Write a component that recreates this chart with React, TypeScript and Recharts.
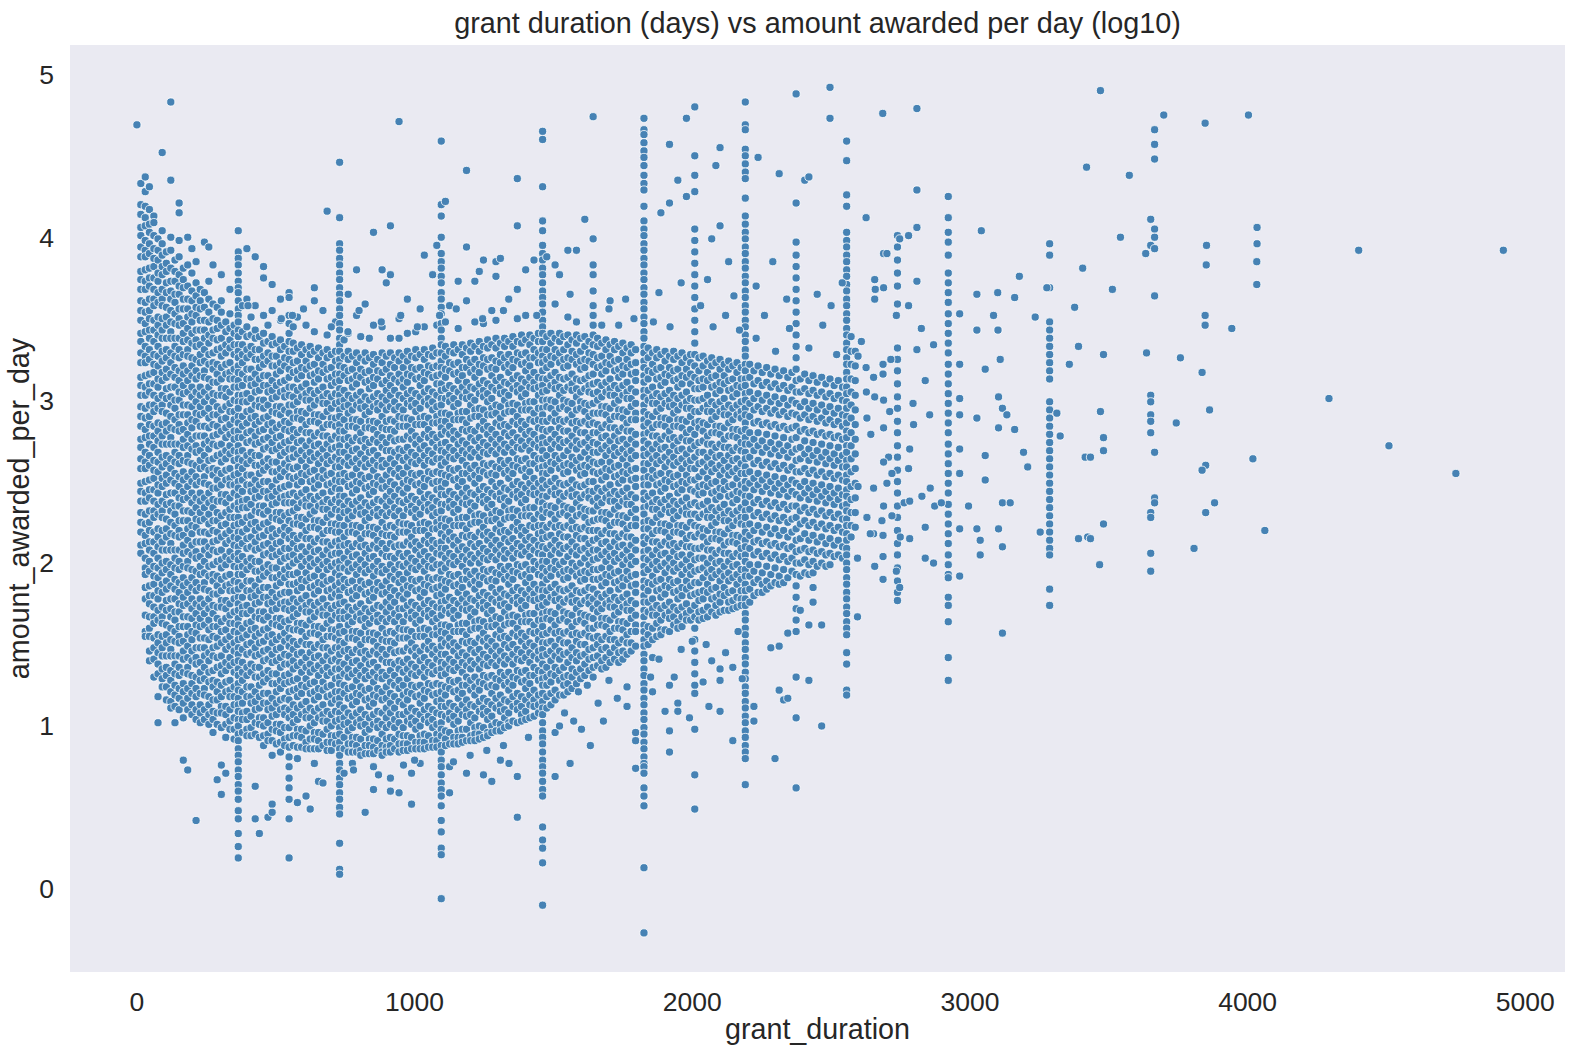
import React from 'react';
import { ScatterChart, Scatter, XAxis, YAxis, CartesianGrid, Label } from 'recharts';

// x = grant duration (days); each list = log10 amount awarded per day, in hundredths
const yearOneCols: [number, number[]][] = [
  [14, [433, 420, 414, 406, 401, 394, 388, 379, 374, 368, 361, 355, 349, 341, 336, 329, 323, 314, 309, 303, 296, 290, 284, 276, 271, 264, 258, 249, 244, 238, 231, 225, 219, 211, 206]],
  [30, [437, 428, 419, 412, 407, 398, 392, 388, 380, 373, 368, 360, 354, 347, 342, 333, 327, 323, 315, 308, 303, 295, 289, 282, 277, 268, 262, 258, 250, 243, 238, 230, 224, 217, 212, 203, 197, 193, 185, 178, 168, 158, 155]],
  [45, [431, 417, 408, 403, 396, 390, 381, 375, 370, 362, 355, 350, 343, 338, 331, 325, 316, 310, 305, 297, 290, 285, 278, 273, 266, 260, 251, 245, 240, 232, 225, 220, 213, 208, 201, 195, 186, 180, 175, 167, 160, 155, 146, 140]],
  [61, [413, 409, 401, 393, 387, 382, 375, 368, 362, 358, 349, 343, 336, 328, 322, 317, 310, 303, 297, 293, 284, 278, 271, 263, 257, 252, 245, 238, 232, 228, 219, 213, 206, 198, 192, 187, 180, 173, 167, 163, 154, 148, 141, 130]],
  [76, [399, 392, 386, 378, 373, 366, 360, 351, 346, 340, 333, 327, 321, 313, 308, 301, 295, 286, 281, 275, 268, 262, 256, 248, 243, 236, 230, 221, 216, 210, 203, 197, 191, 183, 178, 171, 165, 156, 151, 145, 138, 132, 118, 102]],
  [91, [452, 404, 396, 389, 382, 377, 368, 362, 358, 350, 343, 338, 330, 324, 317, 312, 303, 297, 293, 285, 278, 273, 265, 259, 252, 247, 238, 232, 228, 220, 213, 208, 200, 194, 187, 182, 173, 167, 163, 155, 148, 143, 135, 129, 124]],
  [106, [391, 384, 379, 372, 366, 357, 351, 346, 338, 331, 326, 319, 314, 307, 301, 292, 286, 281, 273, 266, 261, 254, 249, 242, 236, 227, 221, 216, 208, 201, 196, 189, 184, 177, 171, 162, 156, 151, 143, 136, 131, 124, 116]],
  [122, [483, 435, 400, 392, 381, 373, 367, 362, 355, 348, 342, 338, 329, 323, 316, 308, 302, 297, 290, 283, 277, 273, 264, 258, 251, 243, 237, 232, 225, 218, 212, 208, 199, 193, 186, 178, 172, 167, 160, 153, 147, 143, 134, 128, 121, 115, 111]],
  [137, [386, 379, 373, 365, 360, 353, 347, 338, 333, 327, 320, 314, 308, 300, 295, 288, 282, 273, 268, 262, 255, 249, 243, 235, 230, 223, 217, 208, 203, 197, 190, 184, 178, 170, 165, 158, 152, 143, 138, 132, 125, 119, 112, 102]],
  [152, [421, 415, 398, 388, 377, 370, 365, 356, 350, 346, 338, 331, 326, 318, 312, 305, 300, 291, 285, 281, 273, 266, 261, 253, 247, 240, 235, 226, 220, 216, 208, 201, 196, 188, 182, 175, 170, 161, 155, 151, 143, 136, 131, 123, 117, 110]],
  [167, [381, 374, 369, 362, 356, 347, 341, 336, 328, 321, 316, 309, 304, 297, 291, 282, 276, 271, 263, 256, 251, 244, 239, 232, 226, 217, 211, 206, 198, 191, 186, 179, 174, 167, 161, 152, 146, 141, 133, 126, 121, 114, 105, 79]],
  [183, [400, 383, 370, 362, 356, 351, 344, 337, 331, 327, 318, 312, 305, 297, 291, 286, 279, 272, 266, 262, 253, 247, 240, 232, 226, 221, 214, 207, 201, 197, 188, 182, 175, 167, 161, 156, 149, 142, 136, 132, 123, 117, 110, 73]],
  [198, [393, 378, 367, 361, 353, 348, 341, 335, 326, 321, 315, 308, 302, 296, 288, 283, 276, 270, 261, 256, 250, 243, 237, 231, 223, 218, 211, 205, 196, 191, 185, 178, 172, 166, 158, 153, 146, 140, 131, 126, 120, 113, 107]],
  [213, [385, 372, 364, 357, 352, 343, 337, 333, 325, 318, 313, 305, 299, 292, 287, 278, 272, 268, 260, 253, 248, 240, 234, 227, 222, 213, 207, 203, 195, 188, 183, 175, 169, 162, 157, 148, 142, 138, 130, 123, 118, 110, 104, 42]],
  [228, [368, 361, 356, 349, 343, 334, 328, 323, 315, 308, 303, 296, 291, 284, 278, 269, 263, 258, 250, 243, 238, 231, 226, 219, 213, 204, 198, 193, 185, 178, 173, 166, 161, 154, 148, 139, 133, 128, 120, 113, 108, 102]],
  [243, [397, 366, 357, 349, 343, 338, 331, 324, 318, 314, 305, 299, 292, 284, 278, 273, 266, 259, 253, 249, 240, 234, 227, 219, 213, 208, 201, 194, 188, 184, 175, 169, 162, 154, 148, 143, 136, 129, 123, 119, 110, 104]],
  [259, [394, 373, 362, 354, 348, 340, 335, 328, 322, 313, 308, 302, 295, 289, 283, 275, 270, 263, 257, 248, 243, 237, 230, 224, 218, 210, 205, 198, 192, 183, 178, 172, 165, 159, 153, 145, 140, 133, 127, 118, 113, 107, 101]],
  [274, [383, 359, 350, 343, 338, 329, 323, 319, 311, 304, 299, 291, 285, 278, 273, 264, 258, 254, 246, 239, 234, 226, 220, 213, 208, 199, 193, 189, 181, 174, 169, 161, 155, 148, 143, 134, 128, 124, 116, 109, 104, 96]],
  [289, [357, 349, 344, 337, 331, 322, 316, 311, 303, 296, 291, 284, 279, 272, 266, 257, 251, 246, 238, 231, 226, 219, 214, 207, 201, 192, 186, 181, 173, 166, 161, 154, 149, 142, 136, 127, 121, 116, 108, 101, 67]],
  [304, [377, 361, 354, 346, 338, 332, 327, 320, 313, 307, 303, 294, 288, 281, 273, 267, 262, 255, 248, 242, 238, 229, 223, 216, 208, 202, 197, 190, 183, 177, 173, 164, 158, 151, 143, 137, 132, 125, 118, 112, 108, 99, 76, 58]],
  [320, [348, 342, 334, 329, 322, 316, 307, 302, 296, 289, 283, 277, 269, 264, 257, 251, 242, 237, 231, 224, 218, 212, 204, 199, 192, 186, 177, 172, 166, 159, 153, 147, 139, 134, 127, 121, 112, 107, 101, 93, 71]],
  [335, [368, 353, 344, 337, 332, 323, 317, 313, 305, 298, 293, 285, 279, 272, 267, 258, 252, 248, 240, 233, 228, 220, 214, 207, 202, 193, 187, 183, 175, 168, 163, 155, 149, 142, 137, 128, 122, 118, 110, 103, 98]],
  [350, [346, 341, 334, 328, 319, 313, 308, 300, 293, 288, 281, 276, 269, 263, 254, 248, 243, 235, 228, 223, 216, 211, 204, 198, 189, 183, 178, 170, 163, 158, 151, 146, 139, 133, 124, 118, 113, 105, 98, 92]],
  [365, [404, 391, 387, 383, 378, 373, 369, 366, 361, 356, 352, 348, 343, 339, 334, 330, 326, 321, 317, 312, 308, 303, 299, 295, 290, 286, 281, 277, 272, 268, 264, 259, 255, 250, 246, 241, 237, 233, 228, 224, 219, 215, 210, 206, 202, 197, 193, 188, 184, 179, 175, 171, 166, 162, 157, 153, 148, 144, 140, 135, 131, 126, 122, 117, 113, 109, 104, 100, 95, 91, 86, 82, 78, 73, 69, 64, 60, 55, 48, 43, 34, 26, 19]],
];

const yearTwoCols: [number, number[]][] = [
  [380, [358, 342, 334, 328, 323, 316, 309, 303, 299, 290, 284, 277, 269, 263, 258, 251, 244, 238, 234, 225, 219, 212, 204, 198, 193, 186, 179, 173, 169, 160, 154, 147, 139, 133, 128, 121, 114, 108, 104, 96]],
  [396, [393, 362, 345, 339, 331, 326, 319, 313, 304, 299, 293, 286, 280, 274, 266, 261, 254, 248, 239, 234, 228, 221, 215, 209, 201, 196, 189, 183, 174, 169, 163, 156, 150, 144, 136, 131, 124, 118, 109, 104, 98, 94]],
  [411, [351, 340, 333, 328, 319, 313, 309, 301, 294, 289, 281, 275, 268, 263, 254, 248, 244, 236, 229, 224, 216, 210, 203, 198, 189, 183, 179, 171, 164, 159, 151, 145, 138, 133, 124, 118, 114, 106, 99, 94]],
  [426, [388, 358, 343, 338, 331, 325, 316, 310, 305, 297, 290, 285, 278, 273, 266, 260, 251, 245, 240, 232, 225, 220, 213, 208, 201, 195, 186, 180, 175, 167, 160, 155, 148, 143, 136, 130, 121, 115, 110, 102, 95, 63, 43]],
  [441, [339, 331, 325, 320, 313, 306, 300, 296, 287, 281, 274, 266, 260, 255, 248, 241, 235, 231, 222, 216, 209, 201, 195, 190, 183, 176, 170, 166, 157, 151, 144, 136, 130, 125, 118, 111, 105, 101, 93, 34]],
  [456, [382, 375, 352, 341, 335, 327, 322, 315, 309, 300, 295, 289, 282, 276, 270, 262, 257, 250, 244, 235, 230, 224, 217, 211, 205, 197, 192, 185, 179, 170, 165, 159, 152, 146, 140, 132, 127, 120, 114, 105, 100, 94, 88]],
  [472, [346, 336, 329, 324, 315, 309, 305, 297, 290, 285, 277, 271, 264, 259, 250, 244, 240, 232, 225, 220, 212, 206, 199, 194, 185, 179, 175, 167, 160, 155, 147, 141, 134, 129, 120, 114, 110, 102, 95, 91, 44]],
  [487, [371, 355, 339, 334, 327, 321, 312, 306, 301, 293, 286, 281, 274, 269, 262, 256, 247, 241, 236, 228, 221, 216, 209, 204, 197, 191, 182, 176, 171, 163, 156, 151, 144, 139, 132, 126, 117, 111, 106, 98, 91, 82, 52, 47]],
  [502, [335, 327, 321, 316, 309, 302, 296, 292, 283, 277, 270, 262, 256, 251, 244, 237, 231, 227, 218, 212, 205, 197, 191, 186, 179, 172, 166, 162, 153, 147, 140, 132, 126, 121, 114, 107, 101, 97, 89]],
  [517, [362, 349, 337, 331, 323, 318, 311, 305, 296, 291, 285, 278, 272, 266, 258, 253, 246, 240, 231, 226, 220, 213, 207, 201, 193, 188, 181, 175, 166, 161, 155, 148, 142, 136, 128, 123, 116, 110, 101, 96, 90, 84]],
  [532, [333, 326, 321, 312, 306, 302, 294, 287, 282, 274, 268, 261, 256, 247, 241, 237, 229, 222, 217, 209, 203, 196, 191, 182, 176, 172, 164, 157, 152, 144, 138, 131, 126, 117, 111, 107, 99, 92, 88]],
  [548, [366, 363, 352, 347, 341, 336, 330, 325, 319, 314, 308, 303, 297, 292, 286, 281, 275, 270, 264, 259, 253, 248, 242, 237, 231, 226, 220, 215, 209, 204, 198, 193, 187, 182, 176, 171, 165, 160, 154, 149, 143, 138, 132, 127, 121, 116, 110, 105, 99, 93, 87, 81, 75, 68, 62, 55, 43, 19]],
  [563, [345, 335, 330, 323, 317, 308, 302, 297, 289, 282, 277, 270, 265, 258, 252, 243, 237, 232, 224, 217, 212, 205, 200, 193, 187, 178, 172, 167, 159, 152, 147, 140, 135, 128, 122, 113, 107, 102, 94, 88]],
  [578, [351, 332, 324, 318, 313, 306, 299, 293, 289, 280, 274, 267, 259, 253, 248, 241, 234, 228, 224, 215, 209, 202, 194, 188, 183, 176, 169, 163, 159, 150, 144, 137, 129, 123, 118, 111, 104, 98, 94, 87, 80, 53]],
  [593, [334, 328, 320, 315, 308, 302, 293, 288, 282, 275, 269, 263, 255, 250, 243, 237, 228, 223, 217, 210, 204, 198, 190, 185, 178, 172, 163, 158, 152, 145, 139, 133, 125, 120, 113, 107, 98, 93, 87]],
  [609, [346, 331, 324, 319, 310, 304, 300, 292, 285, 280, 272, 266, 259, 254, 245, 239, 235, 227, 220, 215, 207, 201, 194, 189, 180, 174, 170, 162, 155, 150, 142, 136, 129, 124, 115, 109, 105, 97, 90, 86, 57]],
  [624, [333, 328, 321, 315, 306, 300, 295, 287, 280, 275, 268, 263, 256, 250, 241, 235, 230, 222, 215, 210, 203, 198, 191, 185, 176, 170, 165, 157, 150, 145, 138, 133, 126, 120, 111, 105, 100, 92, 86, 49]],
  [639, [369, 361, 342, 330, 322, 316, 311, 304, 297, 291, 287, 278, 272, 265, 257, 251, 246, 239, 232, 226, 222, 213, 207, 200, 192, 186, 181, 174, 167, 161, 157, 148, 142, 135, 127, 121, 116, 109, 102, 96, 92, 86, 77]],
  [654, [332, 326, 318, 313, 306, 300, 291, 286, 280, 273, 267, 261, 253, 248, 241, 235, 226, 221, 215, 208, 202, 196, 188, 183, 176, 170, 161, 156, 150, 143, 137, 131, 123, 118, 111, 105, 96, 91, 86, 66]],
  [670, [355, 329, 322, 317, 308, 302, 298, 290, 283, 278, 270, 264, 257, 252, 243, 237, 233, 225, 218, 213, 205, 199, 192, 187, 178, 172, 168, 160, 153, 148, 140, 134, 127, 122, 113, 107, 103, 95, 88, 65]],
  [685, [416, 340, 331, 326, 319, 313, 304, 298, 293, 285, 278, 273, 266, 261, 254, 248, 239, 233, 228, 220, 213, 208, 201, 196, 189, 183, 174, 168, 163, 155, 148, 143, 136, 131, 124, 118, 109, 103, 98, 90, 85]],
  [700, [328, 320, 314, 309, 302, 295, 289, 285, 276, 270, 263, 255, 249, 244, 237, 230, 224, 220, 211, 205, 198, 190, 184, 179, 172, 165, 159, 155, 146, 140, 133, 125, 119, 114, 107, 100, 94, 90, 85]],
  [715, [348, 330, 324, 316, 311, 304, 298, 289, 284, 278, 271, 265, 259, 251, 246, 239, 233, 224, 219, 213, 206, 200, 194, 186, 181, 174, 168, 159, 154, 148, 141, 135, 129, 121, 116, 109, 103, 94, 89]],
  [730, [446, 412, 396, 392, 387, 383, 378, 374, 369, 365, 361, 356, 352, 347, 343, 338, 334, 330, 325, 321, 316, 312, 307, 303, 299, 294, 290, 285, 281, 276, 272, 268, 263, 259, 254, 250, 245, 241, 237, 232, 228, 223, 219, 214, 210, 206, 201, 197, 192, 188, 183, 179, 175, 170, 166, 161, 157, 152, 148, 144, 139, 135, 130, 126, 121, 117, 113, 108, 104, 99, 95, 90, 86, 82, 77, 73, 68, 64, 59, 55, 50, 46, 28, 12, 9]],
];

const yearThreeCols: [number, number[]][] = [
  [746, [337, 327, 320, 315, 306, 300, 296, 288, 281, 276, 268, 262, 255, 250, 241, 235, 231, 223, 216, 211, 203, 197, 190, 185, 176, 170, 166, 158, 151, 146, 138, 132, 125, 120, 111, 105, 101, 93, 86, 71]],
  [761, [365, 341, 330, 325, 318, 312, 303, 297, 292, 284, 277, 272, 265, 260, 253, 247, 238, 232, 227, 219, 212, 207, 200, 195, 188, 182, 173, 167, 162, 154, 147, 142, 135, 130, 123, 117, 108, 102, 97, 89, 84]],
  [776, [327, 319, 313, 308, 301, 294, 288, 284, 275, 269, 262, 254, 248, 243, 236, 229, 223, 219, 210, 204, 197, 189, 183, 178, 171, 164, 158, 154, 145, 139, 132, 124, 118, 113, 106, 99, 93, 89, 84, 77]],
  [791, [380, 352, 329, 323, 315, 310, 303, 297, 288, 283, 277, 270, 264, 258, 250, 245, 238, 232, 223, 218, 212, 205, 199, 193, 185, 180, 173, 167, 158, 153, 147, 140, 134, 128, 120, 115, 108, 102, 93, 88, 84]],
  [806, [339, 326, 319, 314, 305, 299, 295, 287, 280, 275, 267, 261, 254, 249, 240, 234, 230, 222, 215, 210, 202, 196, 189, 184, 175, 169, 165, 157, 150, 145, 137, 131, 124, 119, 110, 104, 100, 92, 85, 82]],
  [822, [359, 329, 324, 317, 311, 302, 296, 291, 283, 276, 271, 264, 259, 252, 246, 237, 231, 226, 218, 211, 206, 199, 194, 187, 181, 172, 166, 161, 153, 146, 141, 134, 129, 122, 116, 107, 101, 96, 88, 83, 47]],
  [837, [338, 326, 318, 312, 307, 300, 293, 287, 283, 274, 268, 261, 253, 247, 242, 235, 228, 222, 218, 209, 203, 196, 188, 182, 177, 170, 163, 157, 153, 144, 138, 131, 123, 117, 112, 105, 98, 92, 88, 83]],
  [852, [403, 346, 328, 322, 314, 309, 302, 296, 287, 282, 276, 269, 263, 257, 249, 244, 237, 231, 222, 217, 211, 204, 198, 192, 184, 179, 172, 166, 157, 152, 146, 139, 133, 127, 119, 114, 107, 101, 92, 87, 83, 75, 61]],
  [867, [325, 318, 313, 304, 298, 294, 286, 279, 274, 266, 260, 253, 248, 239, 233, 229, 221, 214, 209, 201, 195, 188, 183, 174, 168, 164, 156, 149, 144, 136, 130, 123, 118, 109, 103, 99, 91, 85]],
  [883, [380, 345, 329, 323, 317, 310, 302, 297, 290, 283, 277, 271, 263, 259, 251, 246, 238, 231, 225, 218, 212, 206, 198, 194, 186, 181, 173, 166, 160, 153, 147, 141, 133, 129, 121, 116, 108, 101, 95, 88, 84, 82]],
  [898, [372, 327, 319, 312, 306, 300, 294, 287, 282, 274, 269, 261, 254, 247, 241, 235, 229, 222, 217, 209, 204, 196, 189, 182, 176, 170, 164, 157, 152, 144, 139, 131, 124, 117, 111, 105, 99, 92, 87, 84]],
  [913, [407, 377, 338, 329, 322, 315, 309, 303, 296, 288, 282, 277, 269, 264, 257, 250, 244, 238, 231, 223, 217, 212, 204, 199, 192, 185, 179, 173, 166, 158, 152, 147, 139, 134, 127, 120, 114, 108, 101, 93, 88, 84, 68, 60]],
  [928, [326, 320, 313, 306, 299, 294, 287, 281, 275, 268, 261, 255, 248, 241, 234, 229, 222, 216, 210, 203, 196, 190, 183, 176, 169, 164, 157, 151, 145, 138, 131, 125, 118, 111, 104, 99, 92, 86]],
  [944, [471, 350, 338, 329, 324, 316, 311, 303, 296, 290, 284, 276, 270, 265, 258, 253, 245, 238, 232, 225, 219, 211, 206, 199, 193, 188, 180, 172, 167, 160, 154, 146, 140, 135, 128, 123, 115, 107, 102, 95, 89, 84, 59]],
  [959, [327, 320, 313, 308, 301, 294, 289, 284, 276, 269, 263, 255, 249, 243, 237, 229, 224, 219, 211, 204, 198, 190, 184, 178, 172, 164, 159, 154, 146, 139, 133, 125, 119, 113, 107, 99, 94, 89, 85]],
  [974, [362, 341, 330, 324, 316, 311, 304, 298, 289, 284, 278, 271, 265, 259, 251, 246, 239, 233, 224, 219, 213, 206, 200, 194, 186, 181, 174, 168, 159, 154, 148, 141, 135, 129, 121, 116, 109, 103, 94, 89, 85]],
  [989, [327, 320, 315, 306, 300, 296, 288, 281, 276, 268, 262, 255, 250, 241, 235, 231, 223, 216, 211, 203, 197, 190, 185, 176, 170, 166, 158, 151, 146, 138, 132, 125, 120, 111, 105, 101, 93, 86, 71, 52]],
  [1004, [342, 331, 326, 319, 313, 304, 298, 293, 285, 278, 273, 266, 261, 254, 248, 239, 233, 228, 220, 213, 208, 201, 196, 189, 183, 174, 168, 163, 155, 148, 143, 136, 131, 124, 118, 109, 103, 98, 90, 86]],
  [1020, [356, 328, 320, 314, 309, 302, 295, 289, 285, 276, 270, 263, 255, 249, 244, 237, 230, 224, 220, 211, 205, 198, 190, 184, 179, 172, 165, 159, 155, 146, 140, 133, 125, 119, 114, 107, 100, 94, 90, 86, 77]],
  [1035, [389, 345, 331, 325, 317, 312, 305, 299, 290, 285, 279, 272, 266, 260, 252, 247, 240, 234, 225, 220, 214, 207, 201, 195, 187, 182, 175, 169, 160, 155, 149, 142, 136, 130, 122, 117, 110, 104, 95, 90, 86]],
  [1050, [328, 321, 316, 307, 301, 297, 289, 282, 277, 269, 263, 256, 251, 242, 236, 232, 224, 217, 212, 204, 198, 191, 186, 177, 171, 167, 159, 152, 147, 139, 133, 126, 121, 112, 106, 102, 94, 87]],
  [1065, [377, 332, 327, 320, 314, 305, 299, 294, 286, 279, 274, 267, 262, 255, 249, 240, 234, 229, 221, 214, 209, 202, 197, 190, 184, 175, 169, 164, 156, 149, 144, 137, 132, 125, 119, 110, 104, 99, 91, 87]],
  [1080, [395, 346, 329, 321, 315, 310, 303, 296, 290, 286, 277, 271, 264, 256, 250, 245, 238, 231, 225, 221, 212, 206, 199, 191, 185, 180, 173, 166, 160, 156, 147, 141, 134, 126, 120, 115, 108, 101, 95, 91, 87]],
  [1096, [459, 420, 413, 400, 390, 385, 381, 376, 372, 366, 362, 357, 353, 347, 343, 338, 334, 329, 324, 320, 316, 310, 306, 301, 297, 292, 287, 283, 279, 273, 269, 264, 260, 255, 250, 246, 242, 236, 232, 227, 223, 218, 213, 209, 205, 199, 195, 190, 186, 181, 176, 172, 168, 162, 158, 153, 149, 144, 139, 135, 131, 125, 121, 116, 112, 107, 102, 98, 94, 88, 84, 79, 75, 70, 65, 61, 57, 51, 42, 35, 25, 21, -6]],
];

const yearFourCols: [number, number[]][] = [
  [1111, [422, 348, 333, 327, 319, 314, 307, 301, 292, 287, 281, 274, 268, 262, 254, 249, 242, 236, 227, 222, 216, 209, 203, 197, 189, 184, 177, 171, 162, 157, 151, 144, 138, 132, 124, 119, 112, 106, 97, 92, 88]],
  [1126, [358, 330, 323, 318, 309, 303, 299, 291, 284, 279, 271, 265, 258, 253, 244, 238, 234, 226, 219, 214, 206, 200, 193, 188, 179, 173, 169, 161, 154, 149, 141, 135, 128, 123, 114, 108, 104, 96, 89, 75, 59]],
  [1141, [334, 329, 322, 316, 307, 301, 296, 288, 281, 276, 269, 264, 257, 251, 242, 236, 231, 223, 216, 211, 204, 199, 192, 186, 177, 171, 166, 158, 151, 146, 139, 134, 127, 121, 112, 106, 101, 93, 89]],
  [1157, [373, 344, 331, 323, 317, 312, 305, 298, 292, 288, 279, 273, 266, 258, 252, 247, 240, 233, 227, 223, 214, 208, 201, 193, 187, 182, 175, 168, 162, 158, 149, 143, 136, 128, 122, 117, 110, 103, 97, 93, 89]],
  [1172, [334, 328, 320, 315, 308, 302, 293, 288, 282, 275, 269, 263, 255, 250, 243, 237, 228, 223, 217, 210, 204, 198, 190, 185, 178, 172, 163, 158, 152, 145, 139, 133, 125, 120, 113, 107, 98, 93, 90]],
  [1187, [441, 394, 361, 332, 325, 320, 311, 305, 301, 293, 286, 281, 273, 267, 260, 255, 246, 240, 236, 228, 221, 216, 208, 202, 195, 190, 181, 175, 171, 163, 156, 151, 143, 137, 130, 125, 116, 110, 106, 98, 91, 71]],
  [1202, [335, 330, 323, 317, 308, 302, 297, 289, 282, 277, 270, 265, 258, 252, 243, 237, 232, 224, 217, 212, 205, 200, 193, 187, 178, 172, 167, 159, 152, 147, 140, 135, 128, 122, 113, 107, 102, 94, 91]],
  [1217, [373, 348, 333, 325, 319, 314, 307, 300, 294, 290, 281, 275, 268, 260, 254, 249, 242, 235, 229, 225, 216, 210, 203, 195, 189, 184, 177, 170, 164, 160, 151, 145, 138, 130, 124, 119, 112, 105, 99, 95, 91]],
  [1233, [379, 336, 330, 322, 317, 310, 304, 295, 290, 284, 277, 271, 265, 257, 252, 245, 239, 230, 225, 219, 212, 206, 200, 192, 187, 180, 174, 165, 160, 154, 147, 141, 135, 127, 122, 115, 109, 100, 95, 92]],
  [1248, [386, 347, 333, 326, 321, 312, 306, 302, 294, 287, 282, 274, 268, 261, 256, 247, 241, 237, 229, 222, 217, 209, 203, 196, 191, 182, 176, 172, 164, 157, 152, 144, 138, 131, 126, 117, 111, 107, 99, 93, 70]],
  [1263, [337, 332, 325, 319, 310, 304, 299, 291, 284, 279, 272, 267, 260, 254, 245, 239, 234, 226, 219, 214, 207, 202, 195, 189, 180, 174, 169, 161, 154, 149, 142, 137, 130, 124, 115, 109, 104, 96, 94]],
  [1278, [355, 334, 326, 320, 315, 308, 301, 295, 291, 282, 276, 269, 261, 255, 250, 243, 236, 230, 226, 217, 211, 204, 196, 190, 185, 178, 171, 165, 161, 152, 146, 139, 131, 125, 120, 113, 106, 100, 96, 66]],
  [1293, [385, 376, 349, 338, 332, 324, 319, 312, 306, 297, 292, 286, 279, 273, 267, 259, 254, 247, 241, 232, 227, 221, 214, 208, 202, 194, 189, 182, 176, 167, 162, 156, 149, 143, 137, 129, 124, 117, 111, 102, 97]],
  [1309, [387, 335, 328, 323, 314, 308, 304, 296, 289, 284, 276, 270, 263, 258, 249, 243, 239, 231, 224, 219, 211, 205, 198, 193, 184, 178, 174, 166, 159, 154, 146, 140, 133, 128, 119, 113, 109, 101, 97, 79]],
  [1324, [338, 333, 326, 320, 311, 305, 300, 292, 285, 280, 273, 268, 261, 255, 246, 240, 235, 227, 220, 215, 208, 203, 196, 190, 181, 175, 170, 162, 155, 150, 143, 138, 131, 125, 116, 110, 105, 99]],
  [1339, [362, 336, 328, 322, 317, 310, 303, 297, 293, 284, 278, 271, 263, 257, 252, 245, 238, 232, 228, 219, 213, 206, 198, 192, 187, 180, 173, 167, 163, 154, 148, 141, 133, 127, 122, 115, 108, 102, 100]],
  [1354, [339, 333, 325, 320, 313, 307, 298, 293, 287, 280, 274, 268, 260, 255, 248, 242, 233, 228, 222, 215, 209, 203, 195, 190, 183, 177, 168, 163, 157, 150, 144, 138, 130, 125, 118, 112, 103]],
  [1370, [436, 407, 368, 350, 336, 329, 324, 315, 309, 305, 297, 290, 285, 277, 271, 264, 259, 250, 244, 240, 232, 225, 220, 212, 206, 199, 194, 185, 179, 175, 167, 160, 155, 147, 141, 134, 129, 120, 114, 110, 102, 69, 44]],
  [1385, [340, 335, 328, 322, 313, 307, 302, 294, 287, 282, 275, 270, 263, 257, 248, 242, 237, 229, 222, 217, 210, 205, 198, 192, 183, 177, 172, 164, 157, 152, 145, 140, 133, 127, 118, 112, 107, 103]],
  [1400, [380, 352, 337, 329, 323, 318, 311, 304, 298, 294, 285, 279, 272, 264, 258, 253, 246, 239, 233, 229, 220, 214, 207, 199, 193, 188, 181, 174, 168, 164, 155, 149, 142, 134, 128, 123, 116, 109, 104]],
  [1415, [340, 334, 326, 321, 314, 308, 299, 294, 288, 281, 275, 269, 261, 256, 249, 243, 234, 229, 223, 216, 210, 204, 196, 191, 184, 178, 169, 164, 158, 151, 145, 139, 131, 126, 119, 113, 105]],
  [1430, [386, 338, 331, 326, 317, 311, 307, 299, 292, 287, 279, 273, 266, 261, 252, 246, 242, 234, 227, 222, 214, 208, 201, 196, 187, 181, 177, 169, 162, 157, 149, 143, 136, 131, 122, 116, 112, 106]],
  [1446, [341, 336, 329, 323, 314, 308, 303, 295, 288, 283, 276, 271, 264, 258, 249, 243, 238, 230, 223, 218, 211, 206, 199, 193, 184, 178, 173, 165, 158, 153, 146, 141, 134, 128, 119, 113, 108]],
  [1461, [465, 460, 431, 410, 404, 395, 390, 386, 381, 377, 372, 367, 363, 359, 354, 349, 345, 341, 336, 331, 327, 323, 318, 313, 309, 305, 300, 295, 291, 287, 282, 277, 273, 269, 264, 259, 255, 251, 246, 241, 237, 233, 228, 223, 219, 215, 210, 205, 201, 197, 192, 187, 183, 179, 174, 169, 165, 161, 156, 151, 147, 143, 138, 133, 129, 125, 120, 115, 111, 107, 102, 97, 93, 89, 84, 79, 75, 71, 66, 61, 57, 38, 30, 25, 16, -10]],
];

const yearFiveCols: [number, number[]][] = [
  [1476, [388, 339, 331, 325, 320, 313, 306, 300, 296, 287, 281, 274, 266, 260, 255, 248, 241, 235, 231, 222, 216, 209, 201, 195, 190, 183, 176, 170, 166, 157, 151, 144, 136, 130, 125, 118, 111]],
  [1491, [341, 335, 327, 322, 315, 309, 300, 295, 289, 282, 276, 270, 262, 257, 250, 244, 235, 230, 224, 217, 211, 205, 197, 192, 185, 179, 170, 165, 159, 152, 146, 140, 132, 127, 120, 113]],
  [1506, [383, 359, 338, 331, 326, 317, 311, 307, 299, 292, 287, 279, 273, 266, 261, 252, 246, 242, 234, 227, 222, 214, 208, 201, 196, 187, 181, 177, 169, 162, 157, 149, 143, 136, 131, 122, 116, 96, 69]],
  [1522, [377, 341, 336, 329, 323, 314, 308, 303, 295, 288, 283, 276, 271, 264, 258, 249, 243, 238, 230, 223, 218, 211, 206, 199, 193, 184, 178, 173, 165, 158, 153, 146, 141, 134, 128, 119]],
  [1537, [339, 331, 325, 320, 313, 306, 300, 296, 287, 281, 274, 266, 260, 255, 248, 241, 235, 231, 222, 216, 209, 201, 195, 190, 183, 176, 170, 166, 157, 151, 144, 136, 130, 125, 119]],
  [1552, [392, 351, 340, 334, 326, 321, 314, 308, 299, 294, 288, 281, 275, 269, 261, 256, 249, 243, 234, 229, 223, 216, 210, 204, 196, 191, 184, 178, 169, 164, 158, 151, 145, 139, 131, 126, 121]],
  [1567, [337, 330, 325, 316, 310, 306, 298, 291, 286, 278, 272, 265, 260, 251, 245, 241, 233, 226, 221, 213, 207, 200, 195, 186, 180, 176, 168, 161, 156, 148, 142, 135, 130, 123]],
  [1583, [392, 348, 340, 335, 328, 322, 313, 307, 302, 294, 287, 282, 275, 270, 263, 257, 248, 242, 237, 229, 222, 217, 210, 205, 198, 192, 183, 177, 172, 164, 157, 152, 145, 140, 133, 126]],
  [1598, [338, 330, 324, 319, 312, 305, 299, 295, 286, 280, 273, 265, 259, 254, 247, 240, 234, 230, 221, 215, 208, 200, 194, 189, 182, 175, 169, 165, 156, 150, 143, 135, 129]],
  [1613, [411, 339, 333, 325, 320, 313, 307, 298, 293, 287, 280, 274, 268, 260, 255, 248, 242, 233, 228, 222, 215, 209, 203, 195, 190, 183, 177, 168, 163, 157, 150, 144, 138, 131]],
  [1628, [336, 329, 324, 315, 309, 305, 297, 290, 285, 277, 271, 264, 259, 250, 244, 240, 232, 225, 220, 212, 206, 199, 194, 185, 179, 175, 167, 160, 155, 147, 141, 134]],
  [1643, [474, 399, 383, 377, 367, 358, 352, 346, 340, 334, 328, 322, 316, 310, 304, 298, 292, 286, 280, 274, 268, 262, 256, 250, 244, 238, 232, 226, 220, 214, 208, 202, 196, 190, 184, 178, 172, 166, 160, 154, 148, 142, 136, 130]],
  [1659, [338, 333, 326, 320, 311, 305, 300, 292, 285, 280, 273, 268, 261, 255, 246, 240, 235, 227, 220, 215, 208, 203, 196, 190, 181, 175, 170, 162, 155, 150, 143, 137]],
  [1674, [346, 335, 327, 321, 316, 309, 302, 296, 292, 283, 277, 270, 262, 256, 251, 244, 237, 231, 227, 218, 212, 205, 197, 191, 186, 179, 172, 166, 162, 153, 147, 140, 135]],
  [1689, [337, 331, 323, 318, 311, 305, 296, 291, 285, 278, 272, 266, 258, 253, 246, 240, 231, 226, 220, 213, 207, 201, 193, 188, 181, 175, 166, 161, 155, 148, 142, 136]],
  [1704, [361, 334, 327, 322, 313, 307, 303, 295, 288, 283, 275, 269, 262, 257, 248, 242, 238, 230, 223, 218, 210, 204, 197, 192, 183, 177, 173, 165, 158, 153, 145, 139]],
  [1720, [336, 331, 324, 318, 309, 303, 298, 290, 283, 278, 271, 266, 259, 253, 244, 238, 233, 225, 218, 213, 206, 201, 194, 188, 179, 173, 168, 160, 153, 148, 141]],
  [1735, [346, 333, 325, 319, 314, 307, 300, 294, 290, 281, 275, 268, 260, 254, 249, 242, 235, 229, 225, 216, 210, 203, 195, 189, 184, 177, 170, 164, 160, 151, 145, 139]],
  [1750, [335, 329, 321, 316, 309, 303, 294, 289, 283, 276, 270, 264, 256, 251, 244, 238, 229, 224, 218, 211, 205, 199, 191, 186, 179, 173, 164, 159, 153, 146, 141]],
  [1765, [332, 325, 320, 311, 305, 301, 293, 286, 281, 273, 267, 260, 255, 246, 240, 236, 228, 221, 216, 208, 202, 195, 190, 181, 175, 171, 163, 156, 151, 144, 124, 112]],
  [1780, [334, 329, 322, 316, 307, 301, 296, 288, 281, 276, 269, 264, 257, 251, 242, 236, 231, 223, 216, 211, 204, 199, 192, 186, 177, 171, 166, 158, 151, 146]],
  [1796, [331, 323, 317, 312, 305, 298, 292, 288, 279, 273, 266, 258, 252, 247, 240, 233, 227, 223, 214, 208, 201, 193, 187, 182, 175, 168, 162, 158, 149, 96, 91, 74]],
  [1826, [473, 466, 463, 458, 453, 449, 444, 438, 433, 429, 419, 410, 405, 401, 396, 392, 387, 383, 378, 374, 369, 365, 360, 356, 351, 347, 342, 338, 333, 329, 324, 320, 315, 311, 306, 302, 297, 293, 288, 284, 279, 275, 270, 266, 261, 257, 252, 248, 243, 239, 234, 230, 225, 221, 216, 212, 207, 203, 198, 194, 189, 185, 180, 176, 171, 167, 162, 158, 153, 149, 144, 140, 135, 131, 126, 122, 117, 113, 108, 104, 99, 95, 90, 86, 81, 77, 75, 71, 62, 57, 51, 13, -27]],
];

const yearSixCols: [number, number[]][] = [
  [1841, [332, 326, 318, 313, 306, 300, 291, 286, 280, 273, 267, 261, 253, 248, 241, 235, 226, 221, 215, 208, 202, 196, 188, 183, 176, 170, 161, 156, 150]],
  [1857, [329, 322, 317, 308, 302, 298, 290, 283, 278, 270, 264, 257, 252, 243, 237, 233, 225, 218, 213, 205, 199, 192, 187, 178, 172, 168, 160, 153, 142, 121]],
  [1872, [331, 326, 319, 313, 304, 298, 293, 285, 278, 273, 266, 261, 254, 248, 239, 233, 228, 220, 213, 208, 201, 196, 189, 183, 174, 168, 163, 155]],
  [1887, [415, 328, 320, 314, 309, 302, 295, 289, 285, 276, 270, 263, 255, 249, 244, 237, 230, 224, 220, 211, 205, 198, 190, 184, 179, 172, 165, 159, 156]],
  [1902, [330, 324, 316, 311, 304, 298, 289, 284, 278, 271, 265, 259, 251, 246, 239, 233, 224, 219, 213, 206, 200, 194, 186, 181, 174, 168, 159, 109]],
  [1918, [457, 421, 327, 320, 315, 306, 300, 296, 288, 281, 276, 268, 262, 255, 250, 241, 235, 231, 223, 216, 211, 203, 197, 190, 185, 176, 170, 166, 158, 125, 97, 84]],
  [1933, [330, 325, 318, 312, 303, 297, 292, 284, 277, 272, 265, 260, 253, 247, 238, 232, 227, 219, 212, 207, 200, 195, 188, 182, 173, 167, 162]],
  [1948, [435, 327, 319, 313, 308, 301, 294, 288, 284, 275, 269, 262, 254, 248, 243, 236, 229, 223, 219, 210, 204, 197, 189, 183, 178, 171, 164, 160, 114, 109]],
  [1963, [329, 323, 315, 310, 303, 297, 288, 283, 277, 270, 264, 258, 250, 245, 238, 232, 223, 218, 212, 205, 199, 193, 185, 180, 173, 167, 161]],
  [1979, [473, 425, 326, 319, 314, 305, 299, 295, 287, 280, 275, 267, 261, 254, 249, 240, 234, 230, 222, 215, 210, 202, 196, 189, 184, 175, 169, 165]],
  [1994, [328, 323, 316, 310, 301, 295, 290, 282, 275, 270, 263, 258, 251, 245, 236, 230, 225, 217, 210, 205, 198, 193, 186, 180, 171, 165]],
  [2009, [480, 450, 438, 428, 405, 398, 391, 384, 377, 370, 363, 356, 349, 342, 335, 328, 321, 314, 307, 300, 293, 286, 279, 272, 265, 258, 251, 244, 237, 230, 223, 216, 209, 202, 195, 188, 181, 174, 167, 160, 153, 146, 139, 132, 125, 120, 98, 70, 49]],
  [2024, [326, 318, 312, 307, 300, 293, 287, 283, 274, 268, 261, 253, 247, 242, 235, 228, 222, 218, 209, 203, 196, 188, 182, 177, 170, 165]],
  [2039, [327, 321, 313, 308, 301, 295, 286, 281, 275, 268, 262, 256, 248, 243, 236, 230, 221, 216, 210, 203, 197, 191, 183, 178, 171, 166, 127]],
  [2055, [374, 324, 317, 312, 303, 297, 293, 285, 278, 273, 265, 259, 252, 247, 238, 232, 228, 220, 213, 208, 200, 194, 187, 182, 173, 167]],
  [2070, [399, 326, 321, 314, 308, 299, 293, 288, 280, 273, 268, 261, 256, 249, 243, 234, 228, 223, 215, 208, 203, 196, 191, 184, 178, 170, 140]],
  [2085, [444, 323, 315, 309, 304, 297, 290, 284, 280, 271, 265, 258, 250, 244, 239, 232, 225, 219, 215, 206, 200, 193, 185, 179, 174, 168]],
  [2100, [455, 407, 325, 319, 311, 306, 299, 293, 284, 279, 273, 266, 260, 254, 246, 241, 234, 228, 219, 214, 208, 201, 195, 189, 181, 176, 170, 135, 128, 109]],
  [2115, [322, 315, 310, 301, 295, 291, 283, 276, 271, 263, 257, 250, 245, 236, 230, 226, 218, 211, 206, 198, 192, 185, 180, 171]],
  [2131, [385, 324, 319, 312, 306, 297, 291, 286, 278, 271, 266, 259, 254, 247, 241, 232, 226, 221, 213, 206, 201, 194, 189, 182, 176, 171]],
  [2146, [321, 313, 307, 302, 295, 288, 282, 278, 269, 263, 256, 248, 242, 237, 230, 223, 217, 213, 204, 198, 191, 183, 177, 172, 136, 91]],
  [2161, [323, 317, 309, 304, 297, 291, 282, 277, 271, 264, 258, 252, 244, 239, 232, 226, 217, 212, 206, 199, 193, 187, 179, 173]],
  [2176, [320, 313, 308, 299, 293, 289, 281, 274, 269, 261, 255, 248, 243, 234, 228, 224, 216, 209, 204, 196, 190, 183, 178, 174]],
  [2191, [483, 469, 466, 454, 450, 445, 440, 436, 424, 413, 408, 403, 399, 394, 390, 385, 381, 376, 372, 367, 363, 358, 354, 349, 345, 340, 336, 331, 327, 322, 318, 313, 309, 304, 300, 295, 291, 286, 282, 277, 273, 268, 264, 259, 255, 250, 246, 241, 237, 232, 228, 223, 219, 214, 210, 205, 201, 196, 192, 187, 183, 178, 174, 169, 165, 160, 156, 151, 147, 142, 138, 133, 129, 124, 120, 115, 111, 106, 102, 97, 93, 88, 84, 80, 64]],
];

const yearSevenCols: [number, number[]][] = [
  [2207, [322, 314, 305, 298, 290, 280, 273, 265, 256, 249, 241, 233, 224, 217, 209, 199, 192, 184, 176]],
  [2222, [318, 310, 301, 294, 286, 276, 269, 261, 252, 245, 237, 229, 220, 213, 205, 195, 188, 180, 112, 103]],
  [2237, [449, 321, 312, 304, 296, 287, 280, 272, 263, 255, 248, 239, 231, 223, 214, 207, 199, 190, 182]],
  [2252, [317, 309, 300, 293, 285, 275, 268, 260, 251, 244, 236, 228, 219, 212, 204, 194, 187, 182]],
  [2268, [320, 311, 303, 295, 286, 279, 271, 262, 254, 247, 238, 230, 222, 213, 206, 198, 189, 184]],
  [2283, [316, 308, 299, 292, 284, 274, 267, 259, 250, 243, 235, 227, 218, 211, 203, 193, 186, 148]],
  [2298, [319, 310, 302, 294, 285, 278, 270, 261, 253, 246, 237, 229, 221, 212, 205, 197, 188, 80]],
  [2313, [439, 315, 307, 298, 291, 283, 273, 266, 258, 249, 242, 234, 226, 217, 210, 202, 192, 187, 149, 122]],
  [2329, [318, 309, 301, 293, 284, 277, 269, 260, 252, 245, 236, 228, 220, 211, 204, 196, 188, 116]],
  [2344, [314, 306, 297, 290, 282, 272, 265, 257, 248, 241, 233, 225, 216, 209, 201, 191, 157, 117]],
  [2359, [317, 308, 300, 292, 283, 276, 268, 259, 251, 244, 235, 227, 219, 210, 203, 195]],
  [2374, [488, 421, 397, 389, 382, 375, 368, 361, 354, 347, 340, 333, 326, 319, 312, 305, 298, 291, 284, 277, 270, 263, 256, 249, 242, 235, 228, 221, 214, 207, 200, 193, 186, 179, 172, 165, 158, 130, 105, 62]],
  [2389, [313, 305, 296, 289, 281, 271, 264, 256, 247, 240, 232, 224, 215, 208, 200, 192, 171]],
  [2405, [435, 316, 307, 299, 291, 282, 275, 267, 258, 250, 243, 234, 226, 218, 209, 202, 194]],
  [2420, [437, 312, 304, 295, 288, 280, 270, 263, 255, 246, 239, 231, 223, 214, 207, 199, 193, 162, 128]],
  [2435, [315, 306, 298, 290, 281, 274, 266, 257, 249, 242, 233, 225, 217, 208, 201, 194, 185, 176]],
  [2450, [311, 303, 294, 287, 279, 269, 262, 254, 245, 238, 230, 222, 213, 206, 198]],
  [2466, [314, 305, 297, 289, 280, 273, 265, 256, 248, 241, 232, 224, 216, 207, 200, 162, 100]],
  [2481, [310, 302, 293, 286, 278, 268, 261, 253, 244, 237, 229, 221, 212, 205, 198]],
  [2496, [492, 473, 313, 304, 296, 288, 279, 272, 264, 255, 247, 240, 231, 223, 215, 206, 199]],
  [2511, [309, 301, 292, 285, 277, 267, 260, 252, 243, 236, 228, 220, 211, 204]],
  [2526, [312, 303, 295, 287, 278, 271, 263, 254, 246, 239, 230, 222, 214, 205]],
  [2541, [308, 300, 291, 284, 276, 266, 259, 251, 242, 235, 227, 219, 210, 203]],
  [2556, [459, 447, 426, 419, 403, 398, 394, 389, 385, 380, 376, 371, 367, 362, 358, 353, 349, 344, 340, 335, 331, 326, 322, 317, 313, 308, 304, 299, 295, 290, 286, 281, 277, 272, 268, 263, 259, 254, 250, 245, 241, 236, 232, 227, 223, 218, 214, 209, 205, 200, 196, 191, 187, 182, 178, 173, 169, 164, 160, 156, 145, 138, 122, 119]],
  [2572, [339, 330, 322, 313, 305, 297, 289, 280, 272, 264, 256, 247, 239, 231, 223, 216]],
  [2587, [330, 321, 312, 303, 294, 285, 276, 267, 258, 249, 240, 231, 222]],
];

const longCols: [number, number[]][] = [
  [2739, [401, 394, 386, 378, 370, 359, 332, 325, 318, 310, 302, 295, 287, 280, 272, 265, 257, 250, 243, 235, 228, 220, 212, 205, 197, 189, 182, 177]],
  [2922, [425, 412, 403, 397, 389, 378, 372, 366, 360, 353, 347, 341, 335, 329, 322, 316, 310, 304, 298, 292, 286, 280, 273, 267, 261, 255, 249, 243, 236, 230, 224, 218, 212, 205, 199, 193, 191, 179, 174, 164, 142, 128]],
  [3287, [396, 389, 369, 348, 343, 338, 333, 328, 323, 318, 313, 299, 294, 289, 284, 279, 274, 269, 264, 259, 254, 249, 244, 239, 234, 229, 224, 219, 214, 209, 205, 184, 174]],
];

const loosePoints: [number, number][] = [
  [0, 469], [400, 358], [520, 350], [560, 352], [600, 356], [700, 345], [760, 342], [800, 355], [880, 348], [950, 352],
  [780, 73], [870, 70], [960, 76], [1000, 79], [1140, 78], [1200, 82], [1260, 85], [1320, 88], [1410, 93], [1340, 77],
  [1010, 345], [1090, 352], [1150, 356], [1245, 350], [1320, 355], [1440, 352], [1560, 365], [1700, 356], [1760, 362], [1790, 350],
  [1540, 108], [1573, 103], [1601, 98], [1622, 125], [1661, 114], [1700, 128], [1730, 117], [1680, 103], [1633, 88], [1560, 77], [1590, 121], [1522, 100],
  [1860, 348], [1880, 366], [1920, 345], [1960, 372], [2030, 358], [2075, 345], [2120, 352], [2150, 364], [2170, 343],
  [1850, 130], [1880, 141], [1935, 130], [1960, 147], [2000, 152], [2050, 150], [2120, 145], [2165, 158], [2180, 129], [2060, 112], [1990, 105],
  [2230, 338], [2260, 352], [2300, 330], [2350, 344], [2420, 332], [2470, 346], [2520, 328], [2230, 370], [2290, 385], [2340, 362], [2450, 365], [2500, 358], [2540, 372],
  [2626, 320], [2657, 374], [2657, 362], [2659, 368], [2689, 390], [2689, 369], [2701, 390], [2747, 399], [2779, 401], [2809, 373],
  [2735, 352], [2779, 358], [2825, 344], [2869, 334], [2809, 331], [2795, 298], [2797, 285], [2783, 270], [2779, 258], [2827, 241],
  [2839, 222], [2839, 203], [2869, 200], [2857, 246], [2873, 235], [2897, 237], [2839, 312], [2855, 291], [2687, 322], [2687, 316],
  [2715, 325], [2653, 314], [2657, 302], [2689, 300], [2711, 293], [2689, 283], [2707, 265], [2689, 262], [2643, 279], [2653, 246],
  [2701, 249], [2719, 255], [2689, 235], [2683, 226], [2719, 229], [2763, 237], [2783, 238], [2783, 215], [2749, 216], [2687, 217],
  [2653, 218], [2687, 204], [2687, 190], [2735, 195], [2747, 185], [2657, 198], [2641, 218], [2595, 203], [2595, 167], [2609, 336],
  [2597, 327], [2627, 305], [2629, 289], [2597, 247], [2629, 228], [2686, 476], [2809, 479], [2809, 429], [2809, 406], [2626, 412],
  [3041, 404], [3406, 381], [3377, 357], [3358, 322], [3391, 333], [3415, 265], [3391, 215], [3235, 351], [3178, 376], [3161, 363],
  [3100, 366], [3085, 352], [3101, 343], [3109, 325], [3025, 365], [3025, 343], [3055, 319], [2963, 353], [2963, 322], [3025, 289],
  [2963, 291], [2963, 270], [3055, 266], [3055, 251], [2995, 235], [3025, 221], [3037, 214], [3037, 205], [3103, 302], [3103, 283],
  [3117, 295], [3133, 291], [3161, 282], [3193, 268], [3208, 259], [3117, 237], [3145, 237], [3103, 221], [3117, 210], [3117, 157],
  [2963, 192], [2963, 221], [2963, 255], [2963, 301], [3253, 219], [3325, 278], [3313, 292], [3277, 369], [3424, 216],
  [3470, 490], [3698, 475], [3665, 466], [3665, 457], [3665, 448], [3847, 470], [4003, 475], [3420, 443], [3574, 438], [3651, 411],
  [3665, 405], [3665, 400], [3651, 395], [3665, 393], [3633, 390], [3542, 400], [4034, 406], [4034, 396], [4033, 385], [4033, 371],
  [3852, 395], [3851, 383], [4400, 392], [4921, 392], [3513, 368], [3665, 364], [3847, 352], [3847, 346], [3943, 344], [3481, 328],
  [3636, 329], [3758, 326], [3836, 317], [3651, 303], [3651, 299], [4293, 301], [3470, 293], [3651, 291], [3651, 287], [3743, 286],
  [3863, 294], [3651, 280], [3481, 277], [3481, 269], [3665, 268], [3434, 265], [4019, 264], [4509, 272], [3849, 260], [3836, 257],
  [4750, 255], [3665, 240], [3665, 237], [3651, 231], [3651, 228], [3881, 237], [3849, 231], [3481, 224], [3434, 215], [4062, 220],
  [3807, 209], [3651, 206], [3467, 199], [3651, 195],
];

const xTicks = [0, 1000, 2000, 3000, 4000, 5000];
const yTicks = [0, 1, 2, 3, 4, 5];

const toPoints = (cols: [number, number[]][]) =>
  cols.flatMap(([x, ys]) => ys.map((v) => ({ x, y: v / 100 })));

const data = [
  ...toPoints(yearOneCols),
  ...toPoints(yearTwoCols),
  ...toPoints(yearThreeCols),
  ...toPoints(yearFourCols),
  ...toPoints(yearFiveCols),
  ...toPoints(yearSixCols),
  ...toPoints(yearSevenCols),
  ...toPoints(longCols),
  ...loosePoints.map(([x, v]) => ({ x, y: v / 100 })),
];

const FONT = '"Liberation Sans", Arial, Helvetica, sans-serif';
const TEXT = '#262626';
const BLUE = '#4682B4';

const Dot = (props: any) => {
  const { cx, cy } = props;
  if (cx == null || cy == null) return <g />;
  return <circle cx={cx} cy={cy} r={4.1} fill={BLUE} stroke="#ffffff" strokeWidth={0.8} />;
};

const XLabel = (props: any) => {
  const vb = props.viewBox || {};
  const cx = (vb.x ?? 70) + (vb.width ?? 1495) / 2;
  return (
    <text x={cx} y={1039} textAnchor="middle" fontSize={28.7} fill={TEXT} fontFamily={FONT}>
      grant_duration
    </text>
  );
};

const YLabel = (props: any) => {
  const vb = props.viewBox || {};
  const cy = (vb.y ?? 45) + (vb.height ?? 927) / 2;
  return (
    <text
      x={28.5}
      y={cy}
      transform={`rotate(-90 28.5 ${cy})`}
      textAnchor="middle"
      fontSize={28.7}
      fill={TEXT}
      fontFamily={FONT}
    >
      amount_awarded_per_day
    </text>
  );
};

export default function App() {
  return (
    <div style={{ position: 'absolute', left: 0, top: 0, width: 1572, height: 1050, background: '#ffffff' }}>
      <ScatterChart width={1572} height={1050} margin={{ top: 45, right: 7, bottom: 0, left: 0 }}>
        <CartesianGrid fill="#EAEAF2" horizontal={false} vertical={false} stroke="none" />
        <XAxis
          type="number"
          dataKey="x"
          domain={[-241, 5143]}
          ticks={xTicks}
          axisLine={false}
          tickLine={false}
          tickSize={0}
          tickMargin={20}
          height={78}
          tick={{ fontSize: 26.5, fill: TEXT, fontFamily: FONT }}
          allowDataOverflow
        >
          <Label content={XLabel} />
        </XAxis>
        <YAxis
          type="number"
          dataKey="y"
          domain={[-0.51, 5.18]}
          ticks={yTicks}
          axisLine={false}
          tickLine={false}
          tickSize={0}
          tickMargin={16}
          width={70}
          tick={{ fontSize: 26.5, fill: TEXT, fontFamily: FONT }}
          allowDataOverflow
        >
          <Label content={YLabel} />
        </YAxis>
        <Scatter data={data} shape={Dot} isAnimationActive={false} />
      </ScatterChart>
      <svg
        width={1572}
        height={60}
        style={{ position: 'absolute', left: 0, top: 0, pointerEvents: 'none' }}
      >
        <text x={817.5} y={33} textAnchor="middle" fontSize={28.8} fill={TEXT} fontFamily={FONT}>
          grant duration (days) vs amount awarded per day (log10)
        </text>
      </svg>
    </div>
  );
}
